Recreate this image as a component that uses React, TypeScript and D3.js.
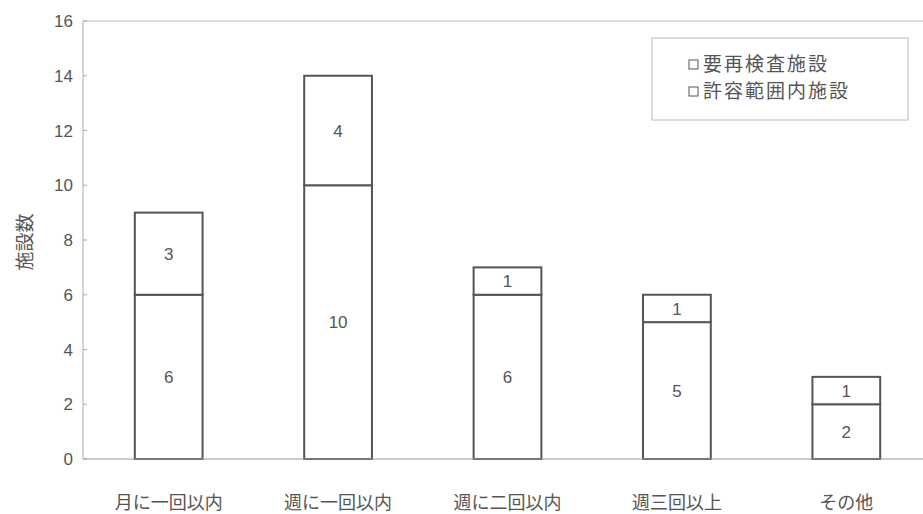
import React from "react";
import * as d3 from "d3";

const categories = ["月に一回以内", "週に一回以内", "週に二回以内", "週三回以上", "その他"];
const withinRange = [6, 10, 6, 5, 2]; // 許容範囲内施設
const recheck = [3, 4, 1, 1, 1]; // 要再検査施設
const yTicks = [0, 2, 4, 6, 8, 10, 12, 14, 16];
const legendLabels = ["要再検査施設", "許容範囲内施設"];
const yLabel = "施設数";

const W = 923;
const H = 514;
const FONT = "'Liberation Sans', Arial, 'Noto Sans CJK JP', sans-serif";
const CJK = "'Noto Sans CJK JP', 'Liberation Sans', sans-serif";
const TXT = "#555";

export default function App() {
  const x = d3.scaleBand<string>().domain(categories).range([84, 931]).paddingInner(0.6).paddingOuter(0.3);
  const y = d3.scaleLinear().domain([0, 16]).range([459, 21]);
  const bw = x.bandwidth();
  const stack = d3.stack<any>().keys(["within", "recheck"])(
    categories.map((c, i) => ({ cat: c, within: withinRange[i], recheck: recheck[i] }))
  );
  return (
    <svg width={W} height={H} style={{ position: "absolute", left: 0, top: 0, background: "#fff" }}>
      <line x1={83} x2={W} y1={y(16)} y2={y(16)} stroke="#bbb" strokeWidth={1} />
      <line x1={83} x2={83} y1={y(16)} y2={y(0)} stroke="#aaa" strokeWidth={1} />
      {yTicks.map((t) => (
        <g key={t}>
          <line x1={83} x2={87} y1={y(t)} y2={y(t)} stroke="#aaa" />
          <text x={73} y={y(t)} dy="0.36em" textAnchor="end" fontSize={17} fontFamily={FONT} fill={TXT}>
            {t}
          </text>
        </g>
      ))}
      <text
        transform={`translate(25,${(y(0) + y(16)) / 2 + 2}) rotate(-90)`}
        textAnchor="middle"
        dy="0.35em"
        fontSize={19}
        fontFamily={CJK}
        fill={TXT}
      >
        {yLabel}
      </text>
      {stack.map((s) =>
        s.map((d, i) => {
          const cx = x(categories[i])!;
          const y0 = y(d[0]);
          const y1 = y(d[1]);
          return (
            <g key={s.key + i}>
              <rect x={cx} y={y1} width={bw} height={y0 - y1} fill="#fff" stroke="#555" strokeWidth={2} />
              <text
                x={cx + bw / 2}
                y={(y0 + y1) / 2}
                dy="0.36em"
                textAnchor="middle"
                fontSize={17}
                fontFamily={FONT}
                fill={TXT}
              >
                {d[1] - d[0]}
              </text>
            </g>
          );
        })
      )}
      <line x1={83} x2={W} y1={y(0)} y2={y(0)} stroke="#999" strokeWidth={1.2} />
      {categories.map((c) => (
        <text
          key={c}
          x={x(c)! + bw / 2}
          y={503}
          dy="0.35em"
          textAnchor="middle"
          fontSize={18}
          fontFamily={CJK}
          fill={TXT}
        >
          {c}
        </text>
      ))}
      <rect x={652} y={38} width={256} height={82} fill="#fff" stroke="#bbb" strokeWidth={1} />
      {legendLabels.map((l, i) => (
        <g key={l}>
          <rect x={689} y={60 + i * 27} width={9} height={9} fill="#fff" stroke="#555" strokeWidth={1} />
          <text x={703} y={64 + i * 27} dy="0.36em" fontSize={19} letterSpacing={2} fontFamily={CJK} fill={TXT}>
            {l}
          </text>
        </g>
      ))}
    </svg>
  );
}
